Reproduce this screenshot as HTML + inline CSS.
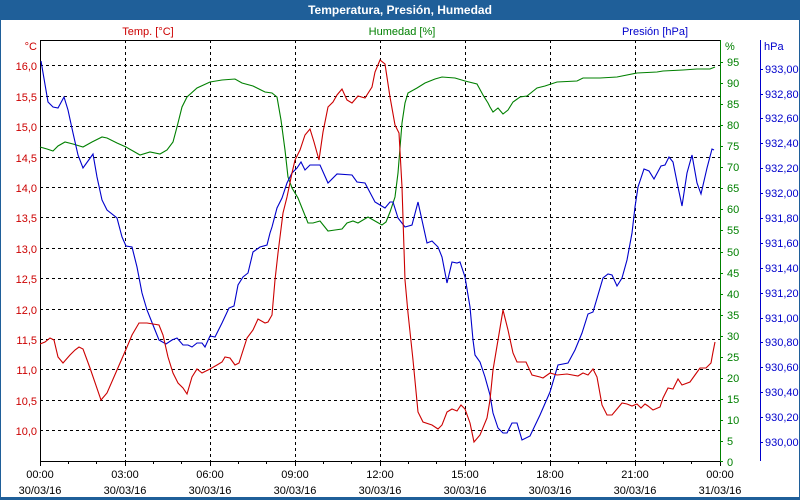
<!DOCTYPE html><html><head><meta charset="utf-8"><style>
body{margin:0;background:#fff;}
svg{display:block;font-family:"Liberation Sans",sans-serif;font-size:11px;}
</style></head><body>
<svg width="800" height="500" xmlns="http://www.w3.org/2000/svg">
<rect x="0" y="0" width="800" height="500" fill="#1f5f99"/>
<rect x="1" y="20" width="798" height="477" fill="#fff"/>
<text x="400" y="14" fill="#fff" font-weight="bold" font-size="12" text-anchor="middle">Temperatura, Presión, Humedad</text>
<g stroke="#000" stroke-dasharray="3,3" stroke-width="1">
<path d="M40 65.5H720M40 96.5H720M40 126.5H720M40 157.5H720M40 187.5H720M40 217.5H720M40 248.5H720M40 278.5H720M40 309.5H720M40 339.5H720M40 369.5H720M40 400.5H720M40 430.5H720"/>
<path d="M125.5 40V461M210.5 40V461M295.5 40V461M380.5 40V461M465.5 40V461M550.5 40V461M635.5 40V461"/>
</g>
<path d="M40.5 461V40.5H720" stroke="#000" fill="none"/>
<path d="M40 461.5H720" stroke="#000"/>
<path d="M720.5 40V462" stroke="#008000"/>
<path d="M760.5 40V461" stroke="#0000cc"/>
<g stroke="#000"><path d="M40.5 461V466M68.5 461V464M96.5 461V464M125.5 461V466M153.5 461V464M181.5 461V464M210.5 461V466M238.5 461V464M266.5 461V464M295.5 461V466M323.5 461V464M351.5 461V464M380.5 461V466M408.5 461V464M436.5 461V464M465.5 461V466M493.5 461V464M521.5 461V464M550.5 461V466M578.5 461V464M606.5 461V464M635.5 461V466M663.5 461V464M691.5 461V464M720.5 461V466"/></g>
<g fill="#cc0000" text-anchor="end">
<text x="37" y="70">16,0</text><text x="37" y="101">15,5</text><text x="37" y="131">15,0</text><text x="37" y="162">14,5</text><text x="37" y="192">14,0</text><text x="37" y="222">13,5</text><text x="37" y="253">13,0</text><text x="37" y="283">12,5</text><text x="37" y="314">12,0</text><text x="37" y="344">11,5</text><text x="37" y="374">11,0</text><text x="37" y="405">10,5</text><text x="37" y="435">10,0</text>
<text x="37" y="50">°C</text></g>
<text x="148" y="35" fill="#cc0000" text-anchor="middle">Temp. [°C]</text>
<text x="402" y="35" fill="#008000" text-anchor="middle">Humedad [%]</text>
<text x="655" y="35" fill="#0000cc" text-anchor="middle">Presión [hPa]</text>
<text x="725" y="50" fill="#008000">%</text>
<text x="764" y="50" fill="#0000cc">hPa</text>
<g fill="#008000" stroke="none">
<text x="727" y="466">0</text><text x="727" y="445">5</text><text x="727" y="424">10</text><text x="727" y="403">15</text><text x="727" y="382">20</text><text x="727" y="361">25</text><text x="727" y="340">30</text><text x="727" y="319">35</text><text x="727" y="298">40</text><text x="727" y="277">45</text><text x="727" y="256">50</text><text x="727" y="234">55</text><text x="727" y="213">60</text><text x="727" y="192">65</text><text x="727" y="171">70</text><text x="727" y="150">75</text><text x="727" y="129">80</text><text x="727" y="108">85</text><text x="727" y="87">90</text><text x="727" y="66">95</text>
</g>
<path stroke="#008000" d="M720 461.5h3M720 441.5h3M720 420.5h3M720 399.5h3M720 378.5h3M720 357.5h3M720 336.5h3M720 315.5h3M720 294.5h3M720 273.5h3M720 252.5h3M720 230.5h3M720 209.5h3M720 188.5h3M720 167.5h3M720 146.5h3M720 125.5h3M720 104.5h3M720 83.5h3M720 62.5h3"/>
<g fill="#0000cc">
<text x="765" y="446">930,00</text><text x="765" y="421">930,20</text><text x="765" y="396">930,40</text><text x="765" y="371">930,60</text><text x="765" y="346">930,80</text><text x="765" y="322">931,00</text><text x="765" y="297">931,20</text><text x="765" y="272">931,40</text><text x="765" y="247">931,60</text><text x="765" y="222">931,80</text><text x="765" y="197">932,00</text><text x="765" y="172">932,20</text><text x="765" y="147">932,40</text><text x="765" y="122">932,60</text><text x="765" y="98">932,80</text><text x="765" y="73">933,00</text>
</g>
<path stroke="#0000cc" d="M760 442.5h3M760 417.5h3M760 392.5h3M760 367.5h3M760 342.5h3M760 318.5h3M760 293.5h3M760 268.5h3M760 243.5h3M760 218.5h3M760 193.5h3M760 168.5h3M760 143.5h3M760 118.5h3M760 94.5h3M760 69.5h3"/>
<g fill="#000" text-anchor="middle">
<text x="40" y="478">00:00</text><text x="125" y="478">03:00</text><text x="210" y="478">06:00</text><text x="295" y="478">09:00</text><text x="380" y="478">12:00</text><text x="465" y="478">15:00</text><text x="550" y="478">18:00</text><text x="635" y="478">21:00</text><text x="720" y="478">00:00</text>
<text x="40" y="494">30/03/16</text><text x="125" y="494">30/03/16</text><text x="210" y="494">30/03/16</text><text x="295" y="494">30/03/16</text><text x="380" y="494">30/03/16</text><text x="465" y="494">30/03/16</text><text x="550" y="494">30/03/16</text><text x="635" y="494">30/03/16</text><text x="720" y="494">31/03/16</text>
</g>
<g fill="none" stroke-width="1.1">
<polyline stroke="#008000" points="40,147 47,149 53,151 58,146 65,142 73,144 83,147 92,142 102,137 107,138 117,143 126,147 133,151 140,155 150,152 160,154 167,150 173,142 177,127 182,107 187,97 197,88 210,82 222,80 235,79 242,83 253,86 263,91 265,92 272,93 277,97 281,120 285,150 288,177 292,188 298,198 308,223 313,223 320,221 328,231 335,230 342,229 347,223 353,221 358,223 368,217 375,221 382,225 386,222 390,212 395,197 398,173 402,123 405,103 408,93 417,88 425,83 435,79 442,77 455,78 465,81 477,84 483,95 488,103 490,107 493,112 498,108 503,114 508,110 513,102 520,97 527,96 537,88 545,86 557,82 577,81 583,78 600,78 617,77 637,73 657,72 663,71 683,70 697,69 710,69 715,67"/>
<polyline stroke="#0000cc" points="41,61 48,102 53,107 58,108 64,97 68,110 73,133 78,155 83,168 88,161 93,154 97,177 102,200 107,210 117,218 122,237 126,246 132,247 137,267 142,293 147,310 153,325 159,340 166,344 172,340 177,338 183,345 188,345 192,347 197,343 202,343 205,347 210,336 215,337 222,323 229,308 234,306 238,285 243,277 248,273 253,252 260,247 267,245 270,233 272,227 277,208 282,198 287,183 292,173 297,168 301,162 305,170 310,165 320,165 328,183 337,174 352,175 357,182 365,183 375,202 385,208 390,202 393,202 398,218 405,227 412,225 418,202 427,243 432,241 438,247 442,257 447,283 452,262 457,263 460,262 465,277 470,307 473,340 475,355 480,362 485,377 490,395 493,413 498,428 503,433 507,433 512,423 517,423 522,440 530,436 540,415 550,392 558,365 568,363 575,350 582,333 588,314 593,312 603,278 608,274 612,275 617,286 622,278 627,260 632,233 635,207 638,187 644,169 649,171 654,179 661,166 665,165 669,157 673,162 678,187 682,206 687,173 692,155 697,183 701,194 707,168 712,149 714,150"/>
<polyline stroke="#cc0000" points="40,344 45,342 50,338 54,340 58,357 63,363 70,355 75,350 79,347 83,349 90,368 101,400 107,393 117,370 127,347 132,335 139,323 147,323 159,325 163,335 168,357 173,373 178,383 183,388 187,394 192,377 197,369 202,373 210,369 217,365 222,362 225,357 230,358 235,365 239,363 247,338 253,330 258,319 265,323 268,322 272,315 275,280 278,253 283,213 287,197 292,173 295,160 300,150 305,135 310,129 314,142 319,160 323,132 328,107 333,102 337,95 342,89 347,100 352,103 358,96 365,98 372,87 375,72 380,60 385,64 390,97 395,125 399,133 402,187 405,280 408,313 413,360 418,412 423,422 432,425 438,429 442,425 447,412 452,409 457,411 461,405 465,409 470,423 474,442 480,435 487,418 490,400 493,370 498,340 503,310 508,330 513,353 517,362 526,362 532,375 540,377 543,378 550,373 557,375 567,374 578,376 583,373 588,375 593,369 597,377 602,405 607,415 612,415 622,403 627,404 632,406 637,404 641,408 645,404 648,406 653,410 660,407 663,398 668,388 673,389 678,379 682,385 690,382 695,375 700,368 706,368 711,363 713,352 715,342"/>
</g>
</svg>
</body></html>
